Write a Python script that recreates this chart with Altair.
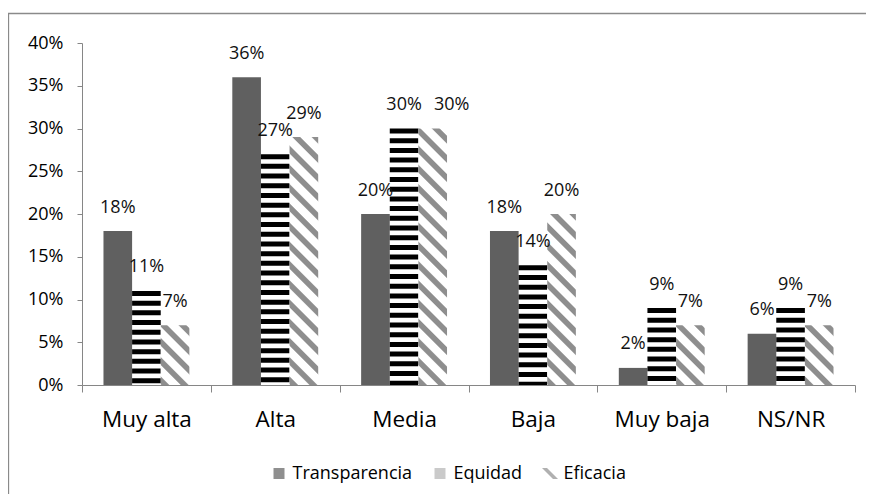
import math
import altair as alt
import pandas as pd

categories = ["Muy alta", "Alta", "Media", "Baja", "Muy baja", "NS/NR"]
series = ["Transparencia", "Equidad", "Eficacia"]
transparencia = [0.18, 0.36, 0.20, 0.18, 0.02, 0.06]
equidad = [0.11, 0.27, 0.30, 0.14, 0.09, 0.09]
eficacia = [0.07, 0.29, 0.30, 0.20, 0.07, 0.07]
y_ticks = [0.0, 0.05, 0.10, 0.15, 0.20, 0.25, 0.30, 0.35, 0.40]

rows = []
for s, vals in zip(series, [transparencia, equidad, eficacia]):
    for c, v in zip(categories, vals):
        rows.append({"cat": c, "serie": s, "val": v})
df = pd.DataFrame(rows)

FONT = "Open Sans"
W, H = 773, 342
YMAX = 0.40
PX = H / YMAX                      # pixels per unit of value
STEP = W / len(categories)
BAR_W = STEP / 4.5                 # xOffset band with paddingOuter 0.75
AXIS_GRAY = "#868686"

x_enc = alt.X("cat:N", sort=categories, scale=alt.Scale(paddingInner=0, paddingOuter=0),
              axis=alt.Axis(title=None, labelAngle=0, tickBand="extent", tickSize=7,
                            labelPadding=16, labelFontSize=22.5, labelFont=FONT,
                            labelColor="#000000", domainColor=AXIS_GRAY, tickColor=AXIS_GRAY,
                            grid=False))
xo_enc = alt.XOffset("serie:N", sort=series,
                     scale=alt.Scale(domain=series, paddingOuter=0.75, paddingInner=0))
y_enc = alt.Y("val:Q", scale=alt.Scale(domain=[0, YMAX], nice=False),
              axis=alt.Axis(title=None, values=y_ticks, format=".0%", tickSize=5,
                            labelPadding=14, labelFontSize=18, labelFont=FONT,
                            labelColor="#000000", domainColor=AXIS_GRAY, tickColor=AXIS_GRAY,
                            grid=False))

base = alt.Chart(df)

# Transparencia: solid dark grey
bars_t = base.transform_filter(alt.datum.serie == "Transparencia").mark_bar(
    color="#606060").encode(x=x_enc, xOffset=xo_enc, y=y_enc)

# Equidad: horizontal black/white stripes (thick dashed rule as wide as the bar)
bars_e = base.transform_filter(alt.datum.serie == "Equidad").mark_rule(
    color="#000000", strokeWidth=BAR_W, strokeDash=[5, 4.7], strokeCap="butt").encode(
    x=x_enc, xOffset=xo_enc, y=y_enc, y2=alt.datum(0))


def diag_gradient(v):
    w = BAR_W
    h = v * PX
    L = (w + h) / math.sqrt(2)
    s = (w + h) / (w * w + h * h)
    period, gray_w, ramp = 13.6, 4.6, 1.0
    gray, white = "#8e8e8e", "#ffffff"
    stops = [(0.0, white)]
    pos = 0.0
    while pos < L:
        pts = [(pos + ramp, gray), (pos + ramp + gray_w, gray),
               (pos + 2 * ramp + gray_w, white), (pos + period, white)]
        for p, col in pts:
            stops.append((min(p / L, 1.0), col))
        pos += period
    return alt.Gradient(gradient="linear",
                        stops=[alt.GradientStop(offset=o, color=c) for o, c in stops],
                        x1=0, y1=1, x2=s * w, y2=1 - s * h)


ef_layers = []
for c, v in zip(categories, eficacia):
    ef_layers.append(
        base.transform_filter((alt.datum.serie == "Eficacia") & (alt.datum.cat == c))
        .mark_bar(fill=diag_gradient(v), strokeWidth=0)
        .encode(x=x_enc, xOffset=xo_enc, y=y_enc))

label_style = dict(baseline="alphabetic", dy=-18.5, fontSize=18, font=FONT, color="#111111")
label_enc = dict(x=x_enc, xOffset=xo_enc, y=y_enc, text=alt.Text("val:Q", format=".0%"))
is_shifted = (alt.datum.cat == "Media") & (alt.datum.serie == "Eficacia")
labels = base.transform_filter(~is_shifted).mark_text(**label_style).encode(**label_enc)
labels_shift = base.transform_filter(is_shifted).mark_text(dx=19, **label_style).encode(**label_enc)

legend_opts = dict(title=None, orient="none", direction="horizontal",
                   legendX=188, legendY=421.5, symbolSize=121,
                   symbolStrokeWidth=0, labelFontSize=18, labelFont=FONT,
                   labelColor="#000000", labelOffset=4.5,
                   columnPadding=18, padding=0)
legend_pts = base.mark_point(filled=True, size=0).encode(
    x=x_enc, xOffset=xo_enc, y=y_enc,
    color=alt.Color("serie:N", sort=series,
                    scale=alt.Scale(domain=series, range=["#606060", "#b3b3b3", "#8f8f8f"]),
                    legend=alt.Legend(**legend_opts)),
    shape=alt.Shape("serie:N", sort=series,
                    scale=alt.Scale(domain=series,
                                    range=["square", "square",
                                           "M-1.45,-1 L-0.55,-1 L1.45,1 L0.55,1 Z"]),
                    legend=alt.Legend(**legend_opts)),
)

frame_data = alt.Data(values=[{"k": 1}])
frame_top = alt.Chart(frame_data).mark_rule(color="#8a8a8a", strokeWidth=1.3).encode(
    x=alt.value(-74), x2=alt.value(800), y=alt.value(-29.5))
frame_left = alt.Chart(frame_data).mark_rule(color="#8a8a8a", strokeWidth=1.3).encode(
    x=alt.value(-73.5), y=alt.value(-29.5), y2=alt.value(470))

chart = alt.layer(frame_top, frame_left, bars_t, bars_e, *ef_layers,
                  labels, labels_shift, legend_pts).properties(
    width=W, height=H,
    padding={"left": 74, "top": 35, "right": 11, "bottom": 109},
    autosize=alt.AutoSizeParams(type="none"),
    background="#ffffff",
).configure_view(stroke=None)

chart.save("out.html", embed_options={"renderer": "svg", "actions": False})
